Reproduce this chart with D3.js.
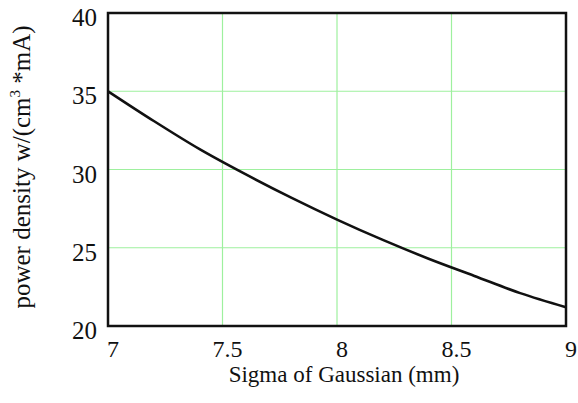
<!DOCTYPE html>
<html>
<head>
<meta charset="utf-8">
<script src="https://cdn.jsdelivr.net/npm/d3@7"></script>
<style>
  body { margin: 0; background: #fff; }
</style>
</head>
<body>
<div id="chart"></div>
<script>
// sigma (mm) and power density
var sigma = [7.0, 7.2, 7.4, 7.6, 7.8, 8.0, 8.2, 8.4, 8.6, 8.8, 9.0];
var power = [35.0, 33.1, 31.3, 29.7, 28.2, 26.8, 25.5, 24.3, 23.2, 22.1, 21.2];
var xTicks = [7, 7.5, 8, 8.5, 9];
var yTicks = [20, 25, 30, 35, 40];

var width = 578;
var height = 403;
var plotL = 108, plotR = 566, plotT = 13, plotB = 326;

var svg = d3.select('#chart')
          .append('svg')
          .attr('width', width)
          .attr('height', height)
          .attr('font-family', '"Liberation Serif", "Times New Roman", serif')
          .attr('fill', '#111');

var x = d3.scaleLinear().domain([7, 9]).range([plotL, plotR]);
var y = d3.scaleLinear().domain([20, 40]).range([plotB, plotT]);

// grid
svg.selectAll('.vgrid')
   .data(xTicks.slice(1, -1))
   .enter()
   .append('line')
   .attr('x1', function (d) { return x(d); })
   .attr('x2', function (d) { return x(d); })
   .attr('y1', plotT)
   .attr('y2', plotB)
   .style('stroke', '#9ef09e')
   .style('stroke-width', 1.2);

svg.selectAll('.hgrid')
   .data(yTicks.slice(1, -1))
   .enter()
   .append('line')
   .attr('x1', plotL)
   .attr('x2', plotR)
   .attr('y1', function (d) { return y(d); })
   .attr('y2', function (d) { return y(d); })
   .style('stroke', '#9ef09e')
   .style('stroke-width', 1.2);

// curve
var line = d3.line()
             .x(function (d, i) { return x(sigma[i]); })
             .y(function (d) { return y(d); })
             .curve(d3.curveMonotoneX);

svg.append('path')
   .datum(power)
   .attr('d', line)
   .style('fill', 'none')
   .style('stroke', '#111')
   .style('stroke-width', 2.6);

// frame
svg.append('rect')
   .attr('x', plotL)
   .attr('y', plotT)
   .attr('width', plotR - plotL)
   .attr('height', plotB - plotT)
   .style('fill', 'none')
   .style('stroke', '#111')
   .style('stroke-width', 2.5);

// tick labels
svg.selectAll('.xlab')
   .data(xTicks)
   .enter()
   .append('text')
   .attr('x', function (d) { return x(d) + 5; })
   .attr('y', 357)
   .attr('text-anchor', 'middle')
   .attr('font-size', 24)
   .text(function (d) { return d; });

svg.selectAll('.ylab')
   .data(yTicks)
   .enter()
   .append('text')
   .attr('x', 97)
   .attr('y', function (d) { return y(d) + 13; })
   .attr('text-anchor', 'end')
   .attr('font-size', 25)
   .text(function (d) { return d; });

// axis titles
svg.append('text')
   .attr('x', 344)
   .attr('y', 382)
   .attr('text-anchor', 'middle')
   .attr('font-size', 23)
   .text('Sigma of Gaussian (mm)');

var yt = svg.append('text')
            .attr('transform', 'translate(30,167) rotate(-90)')
            .attr('text-anchor', 'middle')
            .attr('font-size', 25);
yt.append('tspan').text('power density w/(cm');
yt.append('tspan').attr('dy', -10).attr('font-size', 15).text('3');
yt.append('tspan').attr('dy', 10).text(' *mA)');
</script>
</body>
</html>
